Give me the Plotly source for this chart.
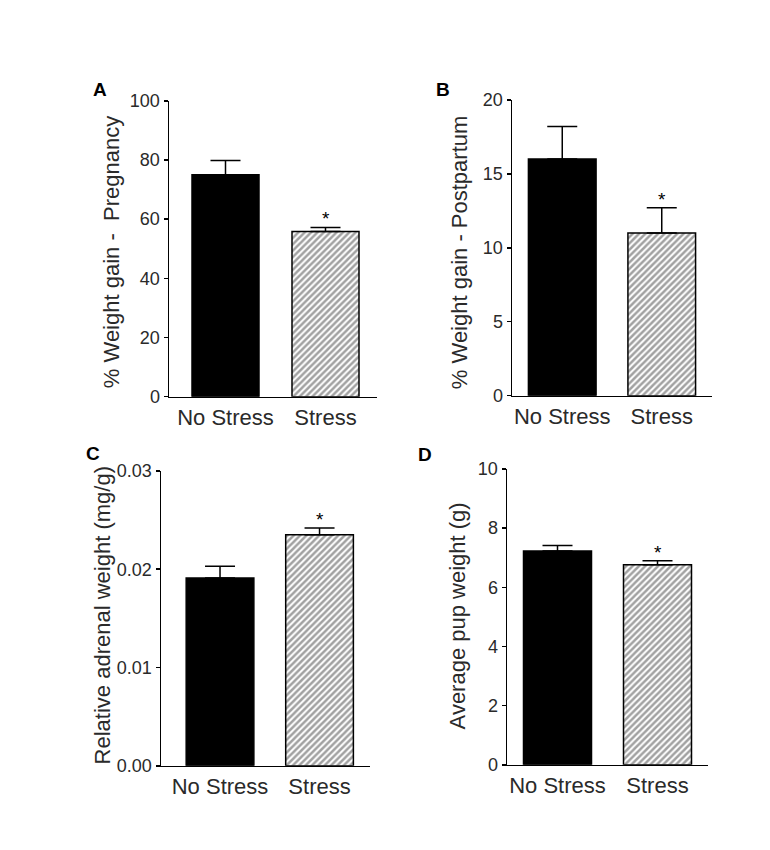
import plotly.graph_objects as go

# ---- data ----
categories = ["No Stress", "Stress"]
a_means = [75.0, 55.8]
a_sem = [4.8, 1.4]
b_means = [16.0, 11.0]
b_sem = [2.2, 1.7]
c_means = [0.0191, 0.0235]
c_sem = [0.0012, 0.0007]
d_means = [7.23, 6.76]
d_sem = [0.18, 0.14]

a_ticks = [0, 20, 40, 60, 80, 100]
b_ticks = [0, 5, 10, 15, 20]
c_ticks = [0.00, 0.01, 0.02, 0.03]
d_ticks = [0, 2, 4, 6, 8, 10]

a_title = "% Weight gain -\u00a0\u00a0Pregnancy"
b_title = "% Weight gain -\u00a0Postpartum"
c_title = "Relative adrenal weight (mg/g)"
d_title = "Average pup weight (g)"
panel_letters = ["A", "B", "C", "D"]
sig_mark = "*"

# ---- layout helpers ----
W, H = 770, 850
FONT = "Arial, Liberation Sans, sans-serif"


def px_x(v):
    return v / W


def px_y(v):
    return 1 - v / H


panels = [
    dict(means=a_means, sem=a_sem, ticks=a_ticks, fmt="d", yr=[0, 100],
         xd=(169, 377), yd=(93, 396), xr=[-0.565, 1.515], bw=0.67,
         title=a_title, tpos=(111, 248), lpos=(100, 81)),
    dict(means=b_means, sem=b_sem, ticks=b_ticks, fmt="d", yr=[0, 20],
         xd=(512, 712), yd=(92, 395), xr=[-0.505, 1.505], bw=0.68,
         title=b_title, tpos=(459, 248), lpos=(443, 81)),
    dict(means=c_means, sem=c_sem, ticks=c_ticks, fmt=".2f", yr=[0, 0.03],
         xd=(161, 370), yd=(472, 774), xr=[-0.593, 1.507], bw=0.68,
         title=c_title, tpos=(102, 620), lpos=(93, 454)),
    dict(means=d_means, sem=d_sem, ticks=d_ticks, fmt="d", yr=[0, 10],
         xd=(507, 708), yd=(470, 773), xr=[-0.505, 1.505], bw=0.68,
         title=d_title, tpos=(457, 621), lpos=(425, 455)),
]

fig = go.Figure()
annotations = []
layout = {}

for i, p in enumerate(panels):
    n = "" if i == 0 else str(i + 1)
    xa, ya = "x" + n, "y" + n
    fig.add_trace(go.Bar(
        x=categories, y=p["means"], xaxis=xa, yaxis=ya,
        width=[p["bw"], p["bw"]],
        marker=dict(
            color=["black", "white"],
            line=dict(color="black", width=1.5),
            pattern=dict(shape=["", "/"], fgcolor="black", bgcolor="white",
                         size=4.5, solidity=0.55),
        ),
        error_y=dict(type="data", symmetric=False, array=p["sem"],
                     arrayminus=[0, 0], color="black", thickness=1.5,
                     width=15),
        showlegend=False, hoverinfo="skip",
    ))
    layout["xaxis" + n] = dict(
        domain=[px_x(p["xd"][0]), px_x(p["xd"][1])], anchor=ya,
        range=p["xr"], showline=True, linecolor="black", linewidth=1.5,
        ticks="", showgrid=False, zeroline=False,
        tickfont=dict(family=FONT, size=22, color="#2a2a2a"),
        fixedrange=True,
    )
    layout["yaxis" + n] = dict(
        domain=[px_y(p["yd"][1]), px_y(p["yd"][0])], anchor=xa,
        range=p["yr"], showline=True, linecolor="black", linewidth=1.5,
        ticks="outside", ticklen=4, tickwidth=1.5, tickcolor="black",
        tickvals=p["ticks"], tickformat=p["fmt"], showgrid=False,
        zeroline=False,
        tickfont=dict(family=FONT, size=18, color="#2a2a2a"),
        fixedrange=True,
    )
    annotations.append(dict(
        text=p["title"], textangle=-90, xref="paper", yref="paper",
        x=px_x(p["tpos"][0]), y=px_y(p["tpos"][1]), xanchor="center",
        yanchor="middle", showarrow=False,
        font=dict(family=FONT, size=22, color="#2a2a2a"),
    ))
    annotations.append(dict(
        text="<b>" + panel_letters[i] + "</b>", xref="paper", yref="paper",
        x=px_x(p["lpos"][0]), y=px_y(p["lpos"][1]), xanchor="center",
        yanchor="middle", showarrow=False,
        font=dict(family=FONT, size=19, color="black"),
    ))
    annotations.append(dict(
        text=sig_mark, xref=xa, yref=ya, x=categories[1],
        y=p["means"][1] + p["sem"][1], xanchor="center", yanchor="bottom",
        yshift=-4, showarrow=False,
        font=dict(family=FONT, size=19, color="black"),
    ))

fig.update_layout(
    width=W, height=H, margin=dict(l=0, r=0, t=0, b=0),
    paper_bgcolor="white", plot_bgcolor="white",
    annotations=annotations, bargap=0.3, **layout,
)

fig.write_html(
    "out.html",
    config={"displayModeBar": False, "staticPlot": True},
    post_script="document.body.style.margin='0px';"
                "document.documentElement.style.overflow='hidden';",
)
